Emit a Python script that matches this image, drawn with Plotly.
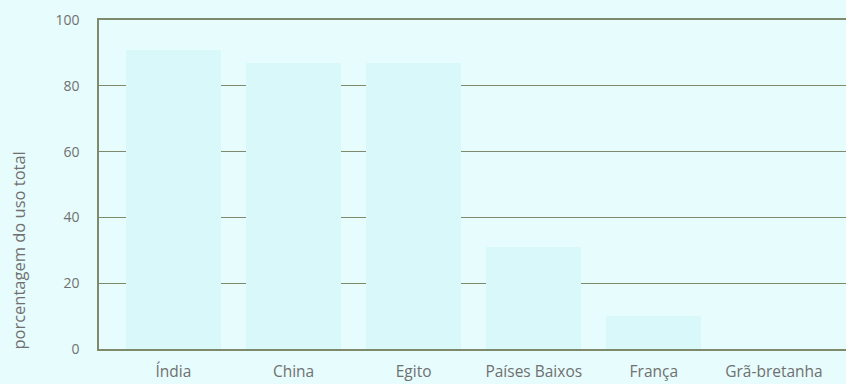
import plotly.graph_objects as go

categories = ["Índia", "China", "Egito", "Países Baixos", "França", "Grã-bretanha"]
values = [91, 87, 87, 31, 10, 0]
y_ticks = [0, 20, 40, 60, 80, 100]
y_title = "porcentagem do uso total"

bg = "#e7fcfc"
bar_color = "#d8f8fa"
line_color = "#7f8a6c"
text_color = "#707070"

fig = go.Figure()
fig.add_trace(go.Bar(
    x=list(range(len(categories))), y=values,
    width=0.79, marker=dict(color=bar_color, line=dict(width=0)),
    hoverinfo="skip",
))

fig.update_layout(
    width=846, height=384,
    margin=dict(l=99, r=0, t=20, b=35),
    paper_bgcolor=bg, plot_bgcolor=bg,
    showlegend=False,
    font=dict(family="Open Sans, Noto Sans, sans-serif", size=14, color=text_color),
    bargap=0,
)
fig.update_xaxes(
    range=[-0.62, 5.6],
    tickmode="array", tickvals=list(range(len(categories))), ticktext=categories,
    showgrid=False, zeroline=False,
    showline=True, linecolor=line_color, linewidth=1.5, mirror=True,
    ticks="", ticklabelstandoff=8, automargin=False,
    tickfont=dict(size=15.5, color=text_color),
)
fig.update_yaxes(
    range=[0, 100],
    tickmode="array", tickvals=y_ticks,
    showgrid=True, gridcolor=line_color, gridwidth=1.2,
    zeroline=False,
    showline=True, linecolor=line_color, linewidth=1.5,
    ticks="", ticklabelstandoff=15, automargin=False,
    tickfont=dict(size=14, color=text_color),
    layer="below traces",
)
fig.add_annotation(
    text=y_title, textangle=-90,
    xref="paper", yref="paper", x=-0.108, y=0.30,
    xanchor="center", yanchor="middle", showarrow=False,
    font=dict(size=16.5, color=text_color),
)
fig.write_html(
    "out.html",
    config={"displayModeBar": False},
    post_script="document.body.style.margin='0';document.body.style.padding='0';document.body.style.background='%s';" % bg,
)
